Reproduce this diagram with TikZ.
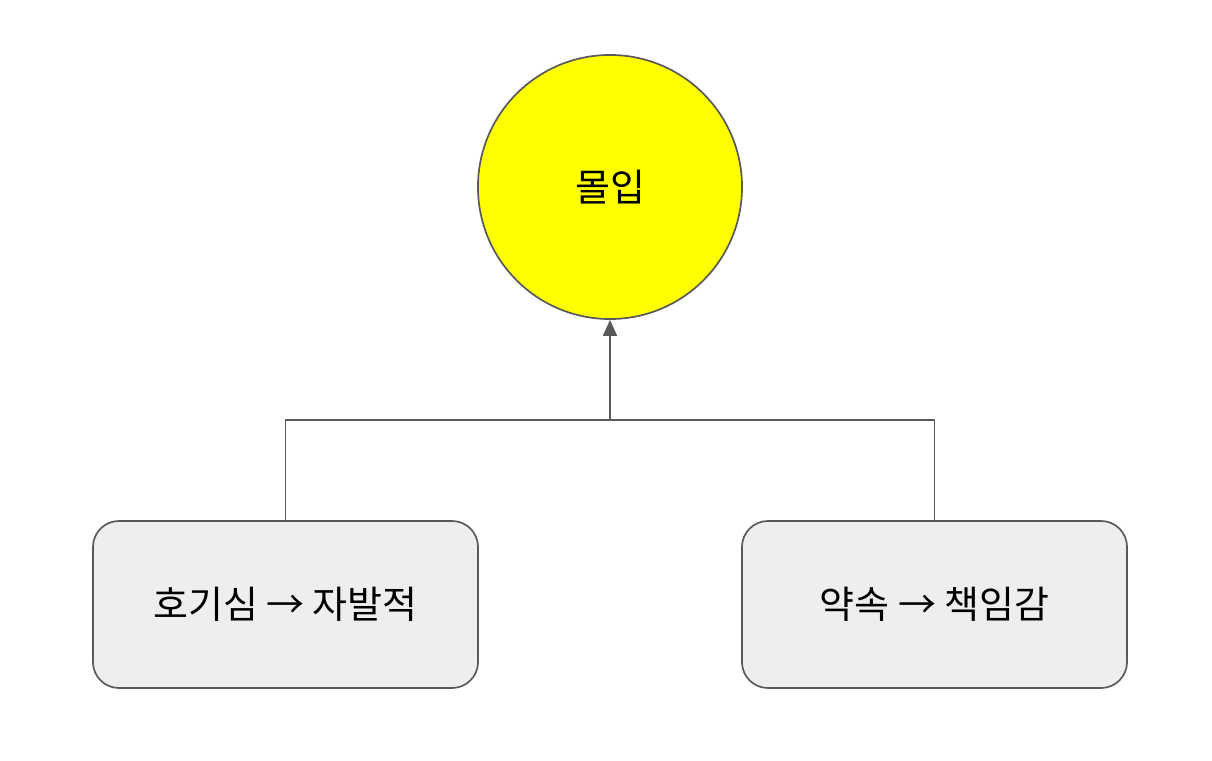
\documentclass[tikz,border=0pt]{standalone}
\usepackage{fontspec}
\setmainfont{Noto Sans CJK KR}
\usetikzlibrary{positioning,arrows.meta}
\definecolor{linegray}{HTML}{595959}
\definecolor{boxgray}{HTML}{EEEEEE}
\definecolor{goalyellow}{HTML}{FFFF00}
\begin{document}
\begin{tikzpicture}[x=0.025cm,y=-0.025cm,line cap=round,line join=round,font=\fontsize{27}{32}\selectfont]
	\useasboundingbox (0,0) rectangle (1212,761);
	\tikzset{goal/.style={circle,draw=linegray,line width=1.2pt,fill=goalyellow,minimum size=6.6cm,inner sep=0pt},
		srcbox/.style={rectangle,rounded corners=0.65cm,draw=linegray,line width=1.2pt,fill=boxgray,minimum width=9.625cm,minimum height=4.175cm}}
	\node[goal] (flow) at (610,187) {몰입};
	\node[srcbox] (cur) at (285.5,604.5) {호기심 → 자발적};
	\node[srcbox] (prom) at (934.5,604.5) {약속 → 책임감};
	\coordinate (join) at (610,420);
	\draw[linegray,line width=1.2pt] (cur.north) |- (join) -| (prom.north);
	\draw[linegray,line width=1.2pt,-{Triangle[length=0.4cm,width=0.35cm]}] (join) -- (flow.south);
\end{tikzpicture}
\end{document}
